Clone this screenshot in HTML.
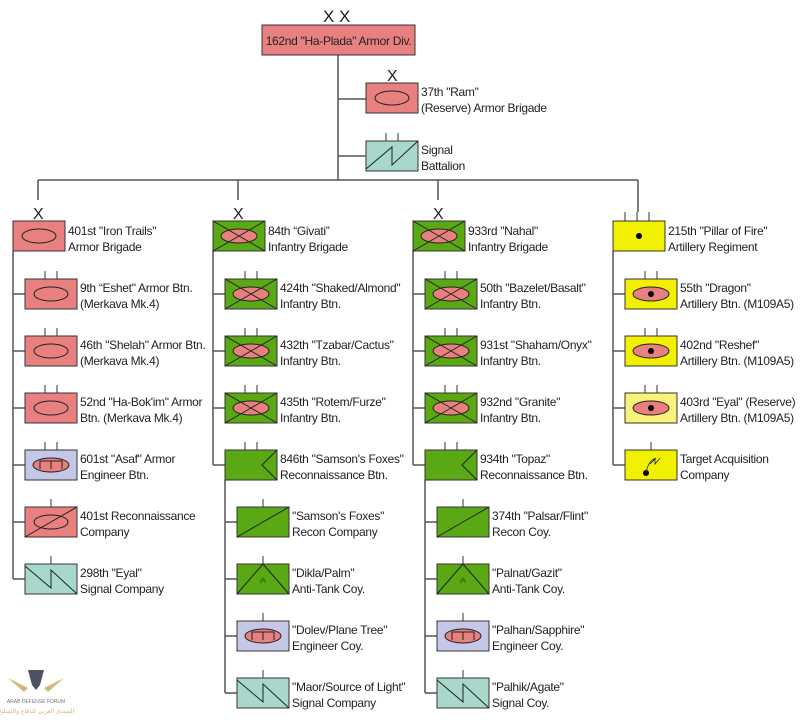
<!DOCTYPE html>
<html><head><meta charset="utf-8"><style>
html,body{margin:0;padding:0;background:#fff;}
svg text{font-family:"Liberation Sans",Arial,sans-serif;font-size:12px;fill:#222;letter-spacing:-0.3px;}
</style></head><body>
<svg width="800" height="719" viewBox="0 0 800 719" xmlns="http://www.w3.org/2000/svg">
<defs>
<g id="armor"><rect x="0" y="0" width="52" height="30" fill="#e88080" stroke="#333"/><ellipse cx="26" cy="15" rx="17" ry="7" fill="none" stroke="#222"/></g>
<g id="inf"><rect x="0" y="0" width="52" height="30" fill="#5aa814" stroke="#333"/><ellipse cx="26" cy="15" rx="18" ry="7" fill="#e88080" stroke="#222"/><path d="M0 0 L52 30 M52 0 L0 30" stroke="#222" stroke-width="1"/></g>
<g id="eng"><rect x="0" y="0" width="52" height="30" fill="#c4c8e6" stroke="#333"/><ellipse cx="26" cy="15" rx="18" ry="7" fill="#e88080" stroke="#222"/><path d="M15 19 V11 H37 V19 M26 11 V19" fill="none" stroke="#222"/></g>
<g id="arec"><rect x="0" y="0" width="52" height="30" fill="#e88080" stroke="#333"/><ellipse cx="26" cy="15" rx="17" ry="7" fill="none" stroke="#222"/><path d="M0 30 L52 0" stroke="#222"/></g>
<g id="sigc"><rect x="0" y="0" width="52" height="30" fill="#a8d8cc" stroke="#333"/><path d="M0 2 L26 24 L26 6 L52 30" fill="none" stroke="#222"/></g>
<g id="sigb"><rect x="0" y="0" width="52" height="30" fill="#a8d8cc" stroke="#333"/><path d="M0 28 L26 6 L26 24 L52 0" fill="none" stroke="#222"/></g>
<g id="recb"><rect x="0" y="0" width="52" height="30" fill="#5aa814" stroke="#333"/><path d="M52 0 L37 15 L52 30" fill="none" stroke="#222"/></g>
<g id="recc"><rect x="0" y="0" width="52" height="30" fill="#5aa814" stroke="#333"/><path d="M0 30 L52 0" stroke="#222"/></g>
<g id="at"><rect x="0" y="0" width="52" height="30" fill="#5aa814" stroke="#333"/><path d="M0 30 L26 0 L52 30" fill="none" stroke="#222"/><path d="M23 17 L26 14 L29 17 M23 19 L26 16 L29 19" fill="none" stroke="#2d6a08" stroke-width="0.8"/></g>
<g id="artb"><rect x="0" y="0" width="52" height="30" fill="#f0f000" stroke="#333"/><circle cx="26" cy="15" r="3" fill="#000"/></g>
<g id="art"><rect x="0" y="0" width="52" height="30" fill="#f0f000" stroke="#333"/><ellipse cx="26" cy="15" rx="18" ry="7" fill="#e88080" stroke="#222"/><circle cx="26" cy="15" r="3" fill="#000"/></g>
<g id="artl"><rect x="0" y="0" width="52" height="30" fill="#f8f27a" stroke="#333"/><ellipse cx="26" cy="15" rx="18" ry="7" fill="#e88080" stroke="#222"/><circle cx="26" cy="15" r="3" fill="#000"/></g>
<g id="ta"><rect x="0" y="0" width="52" height="30" fill="#f0f000" stroke="#333"/><circle cx="21" cy="23" r="3" fill="#000"/><path d="M21 23 Q23 11 31 8 M25 14 L30 9 L30 14 L35 8" fill="none" stroke="#222" stroke-width="0.8"/></g>
<path id="t2" d="M20 0 V-8 M32 0 V-8" stroke="#333"/>
<path id="t1" d="M26 0 V-8" stroke="#333"/>
<path id="t3" d="M12 0 V-9 M24 0 V-9 M36 0 V-9" stroke="#333"/>
</defs>

<g stroke="#555" stroke-width="1.5" fill="none">
<path d="M338 55 V180 M338 99 H366 M338 156 H366"/>
<path d="M38 180 H638 M38 180 V200 M238 180 V200 M438 180 V200 M638 180 V212"/>
<path d="M13 251 V579 M13 294 H25 M13 351 H25 M13 408 H25 M13 465 H25 M13 522 H25 M13 579 H25"/>
<path d="M213 251 V465 M213 294 H225 M213 351 H225 M213 408 H225 M213 465 H225"/>
<path d="M225 480 V693 M225 522 H237 M225 579 H237 M225 636 H237 M225 693 H237"/>
<path d="M413 251 V465 M413 294 H425 M413 351 H425 M413 408 H425 M413 465 H425"/>
<path d="M425 480 V693 M425 522 H437 M425 579 H437 M425 636 H437 M425 693 H437"/>
<path d="M613 251 V465 M613 294 H625 M613 351 H625 M613 408 H625 M613 465 H625"/>
</g>

<text x="323" y="22" style="font-size:17px;letter-spacing:0">X X</text>
<rect x="262" y="25" width="153" height="30" fill="#e88080" stroke="#333"/>
<text x="338.5" y="45" text-anchor="middle">162nd "Ha-Plada" Armor Div.</text>

<text x="387" y="81" style="font-size:16px">X</text>
<use href="#armor" x="366" y="83"/>
<text x="421" y="96">37th "Ram"</text><text x="421" y="112">(Reserve) Armor Brigade</text>
<use href="#t2" x="366" y="141"/><use href="#sigb" x="366" y="141"/>
<text x="421" y="154">Signal</text><text x="421" y="170">Battalion</text>

<text x="33" y="219" style="font-size:16px">X</text>
<text x="233" y="219" style="font-size:16px">X</text>
<text x="433" y="219" style="font-size:16px">X</text>

<use href="#armor" x="13" y="221"/>
<text x="68" y="235">401st "Iron Trails"</text><text x="68" y="251">Armor Brigade</text>
<use href="#t2" x="25" y="279"/><use href="#armor" x="25" y="279"/>
<text x="80" y="292">9th “Eshet" Armor Btn.</text><text x="80" y="308">(Merkava Mk.4)</text>
<use href="#t2" x="25" y="336"/><use href="#armor" x="25" y="336"/>
<text x="80" y="349">46th "Shelah" Armor Btn.</text><text x="80" y="365">(Merkava Mk.4)</text>
<use href="#t2" x="25" y="393"/><use href="#armor" x="25" y="393"/>
<text x="80" y="406">52nd "Ha-Bok'im" Armor</text><text x="80" y="422">Btn. (Merkava Mk.4)</text>
<use href="#t2" x="25" y="450"/><use href="#eng" x="25" y="450"/>
<text x="80" y="463">601st "Asaf"  Armor</text><text x="80" y="479">Engineer Btn.</text>
<use href="#t1" x="25" y="507"/><use href="#arec" x="25" y="507"/>
<text x="80" y="520">401st Reconnaissance</text><text x="80" y="536">Company</text>
<use href="#t1" x="25" y="564"/><use href="#sigc" x="25" y="564"/>
<text x="80" y="577">298th "Eyal"</text><text x="80" y="593">Signal Company</text>

<use href="#inf" x="213" y="221"/>
<text x="268" y="235">84th “Givati”</text><text x="268" y="251">Infantry Brigade</text>
<use href="#t2" x="225" y="279"/><use href="#inf" x="225" y="279"/>
<text x="280" y="292">424th "Shaked/Almond"</text><text x="280" y="308">Infantry Btn.</text>
<use href="#t2" x="225" y="336"/><use href="#inf" x="225" y="336"/>
<text x="280" y="349">432th "Tzabar/Cactus"</text><text x="280" y="365">Infantry Btn.</text>
<use href="#t2" x="225" y="393"/><use href="#inf" x="225" y="393"/>
<text x="280" y="406">435th "Rotem/Furze"</text><text x="280" y="422">Infantry Btn.</text>
<use href="#t2" x="225" y="450"/><use href="#recb" x="225" y="450"/>
<text x="280" y="463">846th "Samson's Foxes"</text><text x="280" y="479">Reconnaissance Btn.</text>
<use href="#t1" x="237" y="507"/><use href="#recc" x="237" y="507"/>
<text x="292" y="520">"Samson's Foxes"</text><text x="292" y="536">Recon Company</text>
<use href="#t1" x="237" y="564"/><use href="#at" x="237" y="564"/>
<text x="292" y="577">"Dikla/Palm"</text><text x="292" y="593">Anti-Tank Coy.</text>
<use href="#t1" x="237" y="621"/><use href="#eng" x="237" y="621"/>
<text x="292" y="634">"Dolev/Plane Tree"</text><text x="292" y="650">Engineer Coy.</text>
<use href="#t1" x="237" y="678"/><use href="#sigc" x="237" y="678"/>
<text x="292" y="691">"Maor/Source of Light"</text><text x="292" y="707">Signal Company</text>

<use href="#inf" x="413" y="221"/>
<text x="468" y="235">933rd "Nahal"</text><text x="468" y="251">Infantry Brigade</text>
<use href="#t2" x="425" y="279"/><use href="#inf" x="425" y="279"/>
<text x="480" y="292">50th "Bazelet/Basalt"</text><text x="480" y="308">Infantry Btn.</text>
<use href="#t2" x="425" y="336"/><use href="#inf" x="425" y="336"/>
<text x="480" y="349">931st "Shaham/Onyx"</text><text x="480" y="365">Infantry Btn.</text>
<use href="#t2" x="425" y="393"/><use href="#inf" x="425" y="393"/>
<text x="480" y="406">932nd "Granite"</text><text x="480" y="422">Infantry Btn.</text>
<use href="#t2" x="425" y="450"/><use href="#recb" x="425" y="450"/>
<text x="480" y="463">934th "Topaz"</text><text x="480" y="479">Reconnaissance Btn.</text>
<use href="#t1" x="437" y="507"/><use href="#recc" x="437" y="507"/>
<text x="492" y="520">374th "Palsar/Flint"</text><text x="492" y="536">Recon Coy.</text>
<use href="#t1" x="437" y="564"/><use href="#at" x="437" y="564"/>
<text x="492" y="577">"Palnat/Gazit"</text><text x="492" y="593">Anti-Tank Coy.</text>
<use href="#t1" x="437" y="621"/><use href="#eng" x="437" y="621"/>
<text x="492" y="634">"Palhan/Sapphire"</text><text x="492" y="650">Engineer Coy.</text>
<use href="#t1" x="437" y="678"/><use href="#sigc" x="437" y="678"/>
<text x="492" y="691">"Palhik/Agate"</text><text x="492" y="707">Signal Coy.</text>

<use href="#t3" x="613" y="221"/><use href="#artb" x="613" y="221"/>
<text x="668" y="235">215th "Pillar of Fire"</text><text x="668" y="251">Artillery Regiment</text>
<use href="#t2" x="625" y="279"/><use href="#art" x="625" y="279"/>
<text x="680" y="292">55th "Dragon"</text><text x="680" y="308">Artillery Btn. (M109A5)</text>
<use href="#t2" x="625" y="336"/><use href="#art" x="625" y="336"/>
<text x="680" y="349">402nd "Reshef"</text><text x="680" y="365">Artillery Btn. (M109A5)</text>
<use href="#t2" x="625" y="393"/><use href="#artl" x="625" y="393"/>
<text x="680" y="406">403rd "Eyal" (Reserve)</text><text x="680" y="422">Artillery Btn. (M109A5)</text>
<use href="#t1" x="625" y="450"/><use href="#ta" x="625" y="450"/>
<text x="680" y="463">Target Acquisition</text><text x="680" y="479">Company</text>

<g opacity="0.8">
<path d="M28 670 L44 670 L40 685 L36 690 L32 685 Z" fill="#1d2a3a"/>
<path d="M8 678 L28 688 L24 692 Z M64 678 L44 688 L48 692 Z" fill="#c9a55a"/>
<text x="36" y="703" text-anchor="middle" style="font-size:5px;fill:#555;letter-spacing:0">ARAB DEFENSE FORUM</text>
<text x="36" y="713" text-anchor="middle" style="font-size:6px;fill:#c9a55a;letter-spacing:0">المنتدى العربي للدفاع والتسليح</text>
</g>
</svg>
</body></html>
